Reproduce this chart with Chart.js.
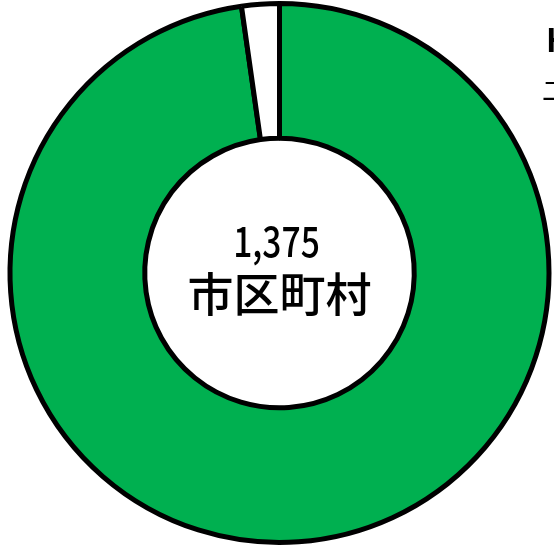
<!DOCTYPE html>
<html>
<head>
<meta charset="utf-8">
<script src="https://cdn.jsdelivr.net/npm/chart.js@4/dist/chart.umd.min.js"></script>
<style>
  html, body { margin: 0; padding: 0; background: #fff; overflow: hidden; }
  #wrap { width: 554px; height: 549px; }
</style>
</head>
<body>
<div id="wrap"><canvas id="c" width="554" height="549"></canvas></div>
<script>
// 市区町村の内訳（1,375 のうち）
const categories = ['該当', 'その他'];
const counts = [1344, 31];
const sliceColors = ['#00B050', '#FFFFFF'];
const centerLines = ['1,375', '市区町村'];
// 右端で切れている凡例の文字
const sideLabels = ['H', '二'];

const centerText = {
  id: 'centerText',
  afterDraw(chart) {
    const ctx = chart.ctx;
    const arc = chart.getDatasetMeta(0).data[0];
    const cx = arc.x;
    const cy = arc.y;
    ctx.save();
    ctx.fillStyle = '#000';
    ctx.textAlign = 'center';
    ctx.textBaseline = 'middle';
    // 数字は少し縦長の字形に寄せる
    ctx.save();
    ctx.translate(cx - 3, cy - 32);
    ctx.scale(0.8, 1);
    ctx.font = '500 42px "Noto Sans CJK JP", sans-serif';
    ctx.fillText(centerLines[0], 0, 0);
    ctx.restore();
    ctx.font = '500 46px "Noto Sans CJK JP", sans-serif';
    ctx.fillText(centerLines[1], cx, cy + 21);

    // 右端の見切れた文字
    ctx.textAlign = 'left';
    ctx.font = 'bold 32px "Noto Sans CJK JP", sans-serif';
    ctx.fillText(sideLabels[0], 546, 40);
    ctx.font = '26px "Noto Sans CJK JP", sans-serif';
    ctx.fillText(sideLabels[1], 542, 90);
    ctx.restore();
  }
};

new Chart(document.getElementById('c'), {
  type: 'doughnut',
  data: {
    labels: categories,
    datasets: [{
      data: counts,
      backgroundColor: sliceColors,
      borderColor: '#000',
      borderWidth: 5
    }]
  },
  options: {
    responsive: false,
    animation: false,
    cutout: '50%',
    rotation: 0,
    layout: {
      padding: { left: 7, right: 2, top: 1, bottom: 4 }
    },
    plugins: {
      legend: { display: false },
      tooltip: { enabled: false }
    }
  },
  plugins: [centerText]
});
</script>
</body>
</html>
